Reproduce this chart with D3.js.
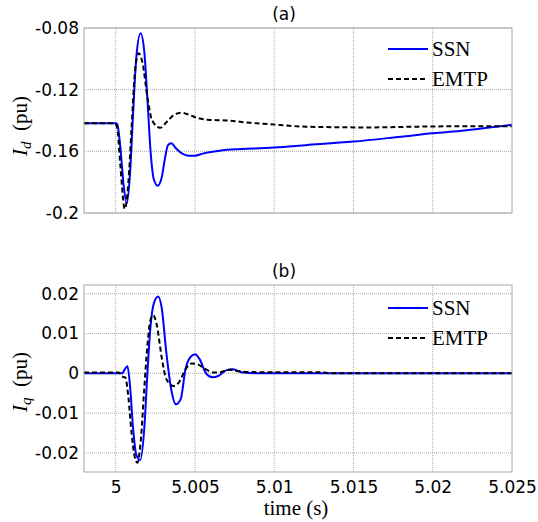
<!DOCTYPE html>
<html>
<head>
<meta charset="utf-8">
<script src="https://cdn.jsdelivr.net/npm/d3@7"></script>
<style>
  body{margin:0;background:#fff;}
  svg{display:block;}
</style>
</head>
<body>
<div id="chart"></div>
<script>
/* ── data ── */
const tId_ssn  = [4.998,5.0000,5.0001,5.0003,5.0005,5.0007,5.0009,5.0011,5.0013,5.00157,5.0018,5.0020,5.0022,5.0024,5.00265,5.0029,5.0031,5.0033,5.0035,5.0038,5.0042,5.0046,5.0050,5.0055,5.006,5.007,5.008,5.010,5.012,5.015,5.018,5.020,5.022,5.025];
const vId_ssn  = [-0.1418,-0.1418,-0.1425,-0.158,-0.182,-0.1937,-0.175,-0.135,-0.099,-0.0834,-0.095,-0.126,-0.160,-0.178,-0.1823,-0.177,-0.165,-0.156,-0.1548,-0.158,-0.1615,-0.1628,-0.1628,-0.1615,-0.1605,-0.1590,-0.1585,-0.1575,-0.156,-0.1537,-0.1505,-0.1483,-0.1465,-0.1428];
const tId_emtp = [4.998,4.99995,5.0001,5.0003,5.00057,5.0008,5.0010,5.0012,5.00145,5.0017,5.0020,5.0023,5.0028,5.0033,5.0037,5.00416,5.0046,5.0052,5.0058,5.007,5.0085,5.0096,5.012,5.016,5.019,5.022,5.025];
const vId_emtp = [-0.1418,-0.1418,-0.145,-0.170,-0.1974,-0.180,-0.145,-0.110,-0.0964,-0.103,-0.125,-0.140,-0.1447,-0.140,-0.1362,-0.135,-0.1362,-0.1385,-0.1395,-0.140,-0.1415,-0.1423,-0.144,-0.1445,-0.1440,-0.1437,-0.1437];

const tIq_ssn  = [4.998,5.0004,5.0006,5.00074,5.0009,5.0011,5.0013,5.00155,5.0018,5.0020,5.0022,5.0024,5.00268,5.0029,5.0032,5.0035,5.0038,5.0041,5.0044,5.0047,5.0050,5.0053,5.0057,5.0061,5.0065,5.0070,5.0074,5.0080,5.0090,5.025];
const vIq_ssn  = [0,0,0.0012,0.0018,-0.003,-0.014,-0.0205,-0.0218,-0.014,0.000,0.012,0.0175,0.0193,0.0165,0.005,-0.004,-0.0078,-0.0065,0.001,0.0040,0.0048,0.0035,0.000,-0.0010,-0.0006,0.0008,0.0010,0.0002,0,0];
const tIq_emtp = [4.998,5.0002,5.0004,5.0006,5.0008,5.0010,5.0012,5.00137,5.0016,5.0018,5.0020,5.0022,5.00237,5.0026,5.0029,5.0032,5.00365,5.0040,5.0044,5.0048,5.0052,5.0057,5.0062,5.0066,5.0072,5.0078,5.009,5.013,5.0135,5.025];
const vIq_emtp = [0.0002,0.0002,-0.0008,-0.001,-0.006,-0.015,-0.021,-0.0225,-0.016,-0.004,0.007,0.0135,0.0146,0.012,0.004,-0.0015,-0.0032,-0.0022,0.001,0.0025,0.0022,0.001,0.0002,0.0003,0.0009,0.0005,0.0003,0.0003,0,0];

const xTicks   = [5,5.005,5.01,5.015,5.02,5.025];
const xTickLbl = ['5','5.005','5.01','5.015','5.02','5.025'];
const idTicks  = [-0.2,-0.16,-0.12,-0.08];
const idTickLbl= ['-0.2','-0.16','-0.12','-0.08'];
const iqTicks  = [-0.02,-0.01,0,0.01,0.02];
const iqTickLbl= ['-0.02','-0.01','0','0.01','0.02'];
const seriesNames = ['SSN','EMTP'];

/* ── layout ── */
const W = 538, H = 522;
const LEFT = 84, RIGHT = 512;
const svg = d3.select('#chart').append('svg').attr('width',W).attr('height',H);

const x = d3.scaleLinear().domain([4.998,5.025]).range([LEFT,RIGHT]);

function zip(t,v){ return t.map((d,i)=>[d,v[i]]); }

function panel(o){
  const y = d3.scaleLinear().domain(o.ydom).range([o.bottom,o.top]);
  const g = svg.append('g');
  const id = 'clip'+o.tag;
  g.append('clipPath').attr('id',id).append('rect')
    .attr('x',LEFT).attr('y',o.top).attr('width',RIGHT-LEFT).attr('height',o.bottom-o.top);

  // grid
  g.selectAll('.gx').data(xTicks.filter(t=>t<5.025)).enter().append('line')
    .attr('x1',d=>x(d)).attr('x2',d=>x(d)).attr('y1',o.top).attr('y2',o.bottom)
    .attr('stroke','#a8a8a8').attr('stroke-width',1).attr('stroke-dasharray','1,1');
  g.selectAll('.gy').data(o.ticks).enter().append('line')
    .attr('x1',LEFT).attr('x2',RIGHT).attr('y1',d=>y(d)).attr('y2',d=>y(d))
    .attr('stroke','#a8a8a8').attr('stroke-width',1).attr('stroke-dasharray','1,1');

  // y axis labels
  const ya = g.append('g').attr('transform',`translate(${LEFT},0)`)
    .call(d3.axisLeft(y).tickValues(o.ticks).tickFormat((d,i)=>o.labels[i]).tickSize(0).tickPadding(5));
  ya.select('.domain').remove();
  ya.selectAll('text').attr('font-family','DejaVu Sans, sans-serif').attr('font-size',17).attr('fill','#000');

  if(o.showX){
    const xa = g.append('g').attr('transform',`translate(0,${o.bottom})`)
      .call(d3.axisBottom(x).tickValues(xTicks).tickFormat((d,i)=>xTickLbl[i]).tickSize(0).tickPadding(9));
    xa.select('.domain').remove();
    xa.selectAll('text').attr('font-family','DejaVu Sans, sans-serif').attr('font-size',17).attr('fill','#000');
  }

  const line = d3.line().x(d=>x(d[0])).y(d=>y(d[1])).curve(d3.curveMonotoneX);
  const lg = g.append('g').attr('clip-path',`url(#${id})`);
  lg.append('path').datum(zip(o.t1,o.v1)).attr('d',line)
    .attr('fill','none').attr('stroke','#0000ff').attr('stroke-width',2);
  lg.append('path').datum(zip(o.t2,o.v2)).attr('d',line)
    .attr('fill','none').attr('stroke','#000').attr('stroke-width',2).attr('stroke-dasharray','5,3');

  // frame
  g.append('rect').attr('x',LEFT).attr('y',o.top).attr('width',RIGHT-LEFT).attr('height',o.bottom-o.top)
    .attr('fill','none').attr('stroke','#a6a6a6').attr('stroke-width',1);

  // title
  g.append('text').attr('x',284).attr('y',o.top-8).attr('text-anchor','middle')
    .attr('font-family','DejaVu Sans, sans-serif').attr('font-size',17).text(o.title);

  // legend
  const leg = g.append('g');
  seriesNames.forEach((s,i)=>{
    const ly = o.legY + i*30;
    leg.append('line').attr('x1',388).attr('x2',428).attr('y1',ly).attr('y2',ly)
      .attr('stroke',i===0?'#0000ff':'#000').attr('stroke-width',2)
      .attr('stroke-dasharray',i===0?null:'5,3');
    leg.append('text').attr('x',432).attr('y',ly+7)
      .attr('font-family','Liberation Serif, serif').attr('font-size',21).text(s);
  });

  // y label
  const yl = g.append('text').attr('transform',`translate(27,${o.ylabY}) rotate(-90)`)
    .attr('text-anchor','middle').attr('font-family','Liberation Serif, serif').attr('font-size',21);
  yl.append('tspan').attr('font-style','italic').text('I');
  yl.append('tspan').attr('font-style','italic').attr('font-size',15).attr('dy',4).text(o.sub);
  yl.append('tspan').attr('dy',-4).text('\u00a0\u00a0(pu)');
}

panel({tag:'a', top:28, bottom:213, ydom:[-0.2,-0.08], ticks:idTicks, labels:idTickLbl,
  t1:tId_ssn, v1:vId_ssn, t2:tId_emtp, v2:vId_emtp, title:'(a)', legY:49, ylabY:126, sub:'d', showX:false});
panel({tag:'b', top:285, bottom:472, ydom:[-0.0248,0.0222], ticks:iqTicks, labels:iqTickLbl,
  t1:tIq_ssn, v1:vIq_ssn, t2:tIq_emtp, v2:vIq_emtp, title:'(b)', legY:308, ylabY:382, sub:'q', showX:true});

svg.append('text').attr('x',296).attr('y',515).attr('text-anchor','middle')
  .attr('font-family','Liberation Serif, serif').attr('font-size',21).text('time (s)');
</script>
</body>
</html>
